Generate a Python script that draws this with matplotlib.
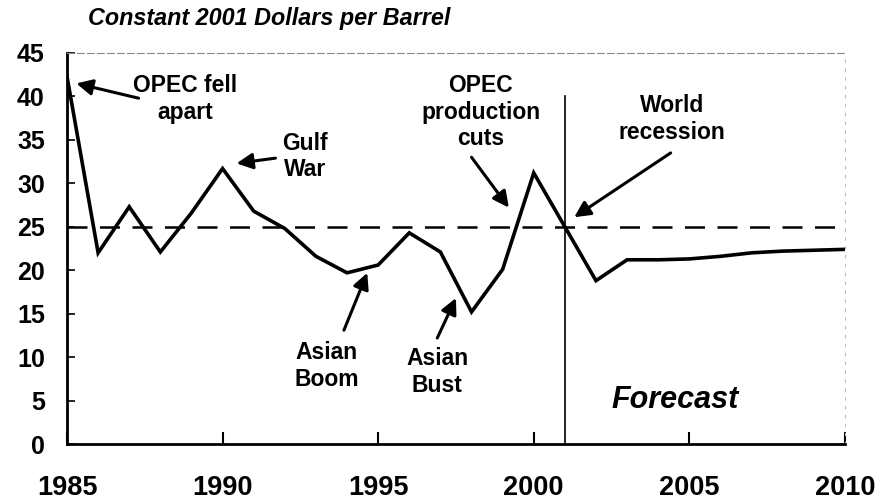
import matplotlib
matplotlib.use('Agg')
import matplotlib.pyplot as plt

# Oil price, constant 2001 dollars per barrel (history + forecast)
years = [1985, 1986, 1987, 1988, 1989, 1990, 1991, 1992, 1993, 1994, 1995,
         1996, 1997, 1998, 1999, 2000, 2001, 2002, 2003, 2004, 2005, 2006,
         2007, 2008, 2009, 2010]
price = [42.3, 22.0, 27.3, 22.1, 26.6, 31.7, 26.8, 24.8, 21.6, 19.7, 20.6,
         24.3, 22.1, 15.2, 20.1, 31.2, 25.0, 18.8, 21.2, 21.2, 21.3, 21.6,
         22.0, 22.2, 22.3, 22.4]

reference_price = 25
forecast_start = 2001

x_ticks = [1985, 1990, 1995, 2000, 2005, 2010]
y_ticks = [0, 5, 10, 15, 20, 25, 30, 35, 40, 45]

# (label, arrow head xy, text xy)
events = [
    ("OPEC fell\napart", (1985.3, 41.5), (1988.8, 39.7)),
    ("Gulf\nWar", (1990.45, 32.3), (1992.65, 33.1)),
    ("OPEC\nproduction\ncuts", (1999.2, 27.2), (1998.3, 38.2)),
    ("World\nrecession", (2001.3, 26.1), (2004.45, 37.4)),
    ("Asian\nBoom", (1994.65, 19.7), (1993.35, 9.0)),
    ("Asian\nBust", (1997.5, 16.8), (1996.9, 8.3)),
]
arrow_tails = [(1987.3, 39.8), (1991.7, 32.9), (1998.0, 33.0),
               (2004.4, 33.5), (1993.9, 13.1), (1996.9, 12.2)]

plt.rcParams['font.family'] = ['Liberation Sans', 'DejaVu Sans']

fig = plt.figure(figsize=(8.77, 5.0), dpi=100)
ax = fig.add_axes([0.0764, 0.112, 0.887, 0.782])

ax.plot(years, price, color='black', lw=2.6, solid_joinstyle='miter', zorder=3)
ax.axhline(reference_price, color='black', lw=1.8, dashes=(8, 5), zorder=2)
ax.plot([forecast_start, forecast_start], [0, 40], color='black', lw=1.2, zorder=2)

ax.set_xlim(1985, 2010)
ax.set_ylim(0, 45)
ax.set_xticks(x_ticks)
ax.set_yticks(y_ticks)
ax.tick_params(axis='x', direction='in', length=9, width=1.5, pad=22,
               labelsize=19.5)
ax.tick_params(axis='y', direction='in', length=6, width=1.2, pad=16,
               labelsize=18)
for lab in ax.get_xticklabels() + ax.get_yticklabels():
    lab.set_fontweight('bold')

ax.spines['left'].set_linewidth(2)
ax.spines['bottom'].set_linewidth(2)
ax.spines['top'].set_color('#888888')
ax.spines['top'].set_linewidth(0.8)
ax.spines['top'].set_linestyle((0, (6, 3)))
ax.spines['right'].set_color('#bbbbbb')
ax.spines['right'].set_linewidth(0.8)
ax.spines['right'].set_linestyle((0, (2, 6)))

for (label, head, txt), tail in zip(events, arrow_tails):
    ax.text(txt[0], txt[1], label, ha='center', va='center', fontsize=16.5,
            fontweight='bold', linespacing=1.2)
    ax.annotate('', xy=head, xytext=tail,
                arrowprops=dict(arrowstyle='-|>', color='black', lw=2.2,
                                mutation_scale=24, shrinkA=0, shrinkB=0))

ax.text(2004.55, 5.1, "Forecast", ha='center', va='center', fontsize=22,
        fontweight='bold', fontstyle='italic')

fig.text(0.1, 0.963, "Constant 2001 Dollars per Barrel", ha='left', va='center',
         fontsize=16.8, fontweight='bold', fontstyle='italic')

fig.savefig('out.png', dpi=100)
